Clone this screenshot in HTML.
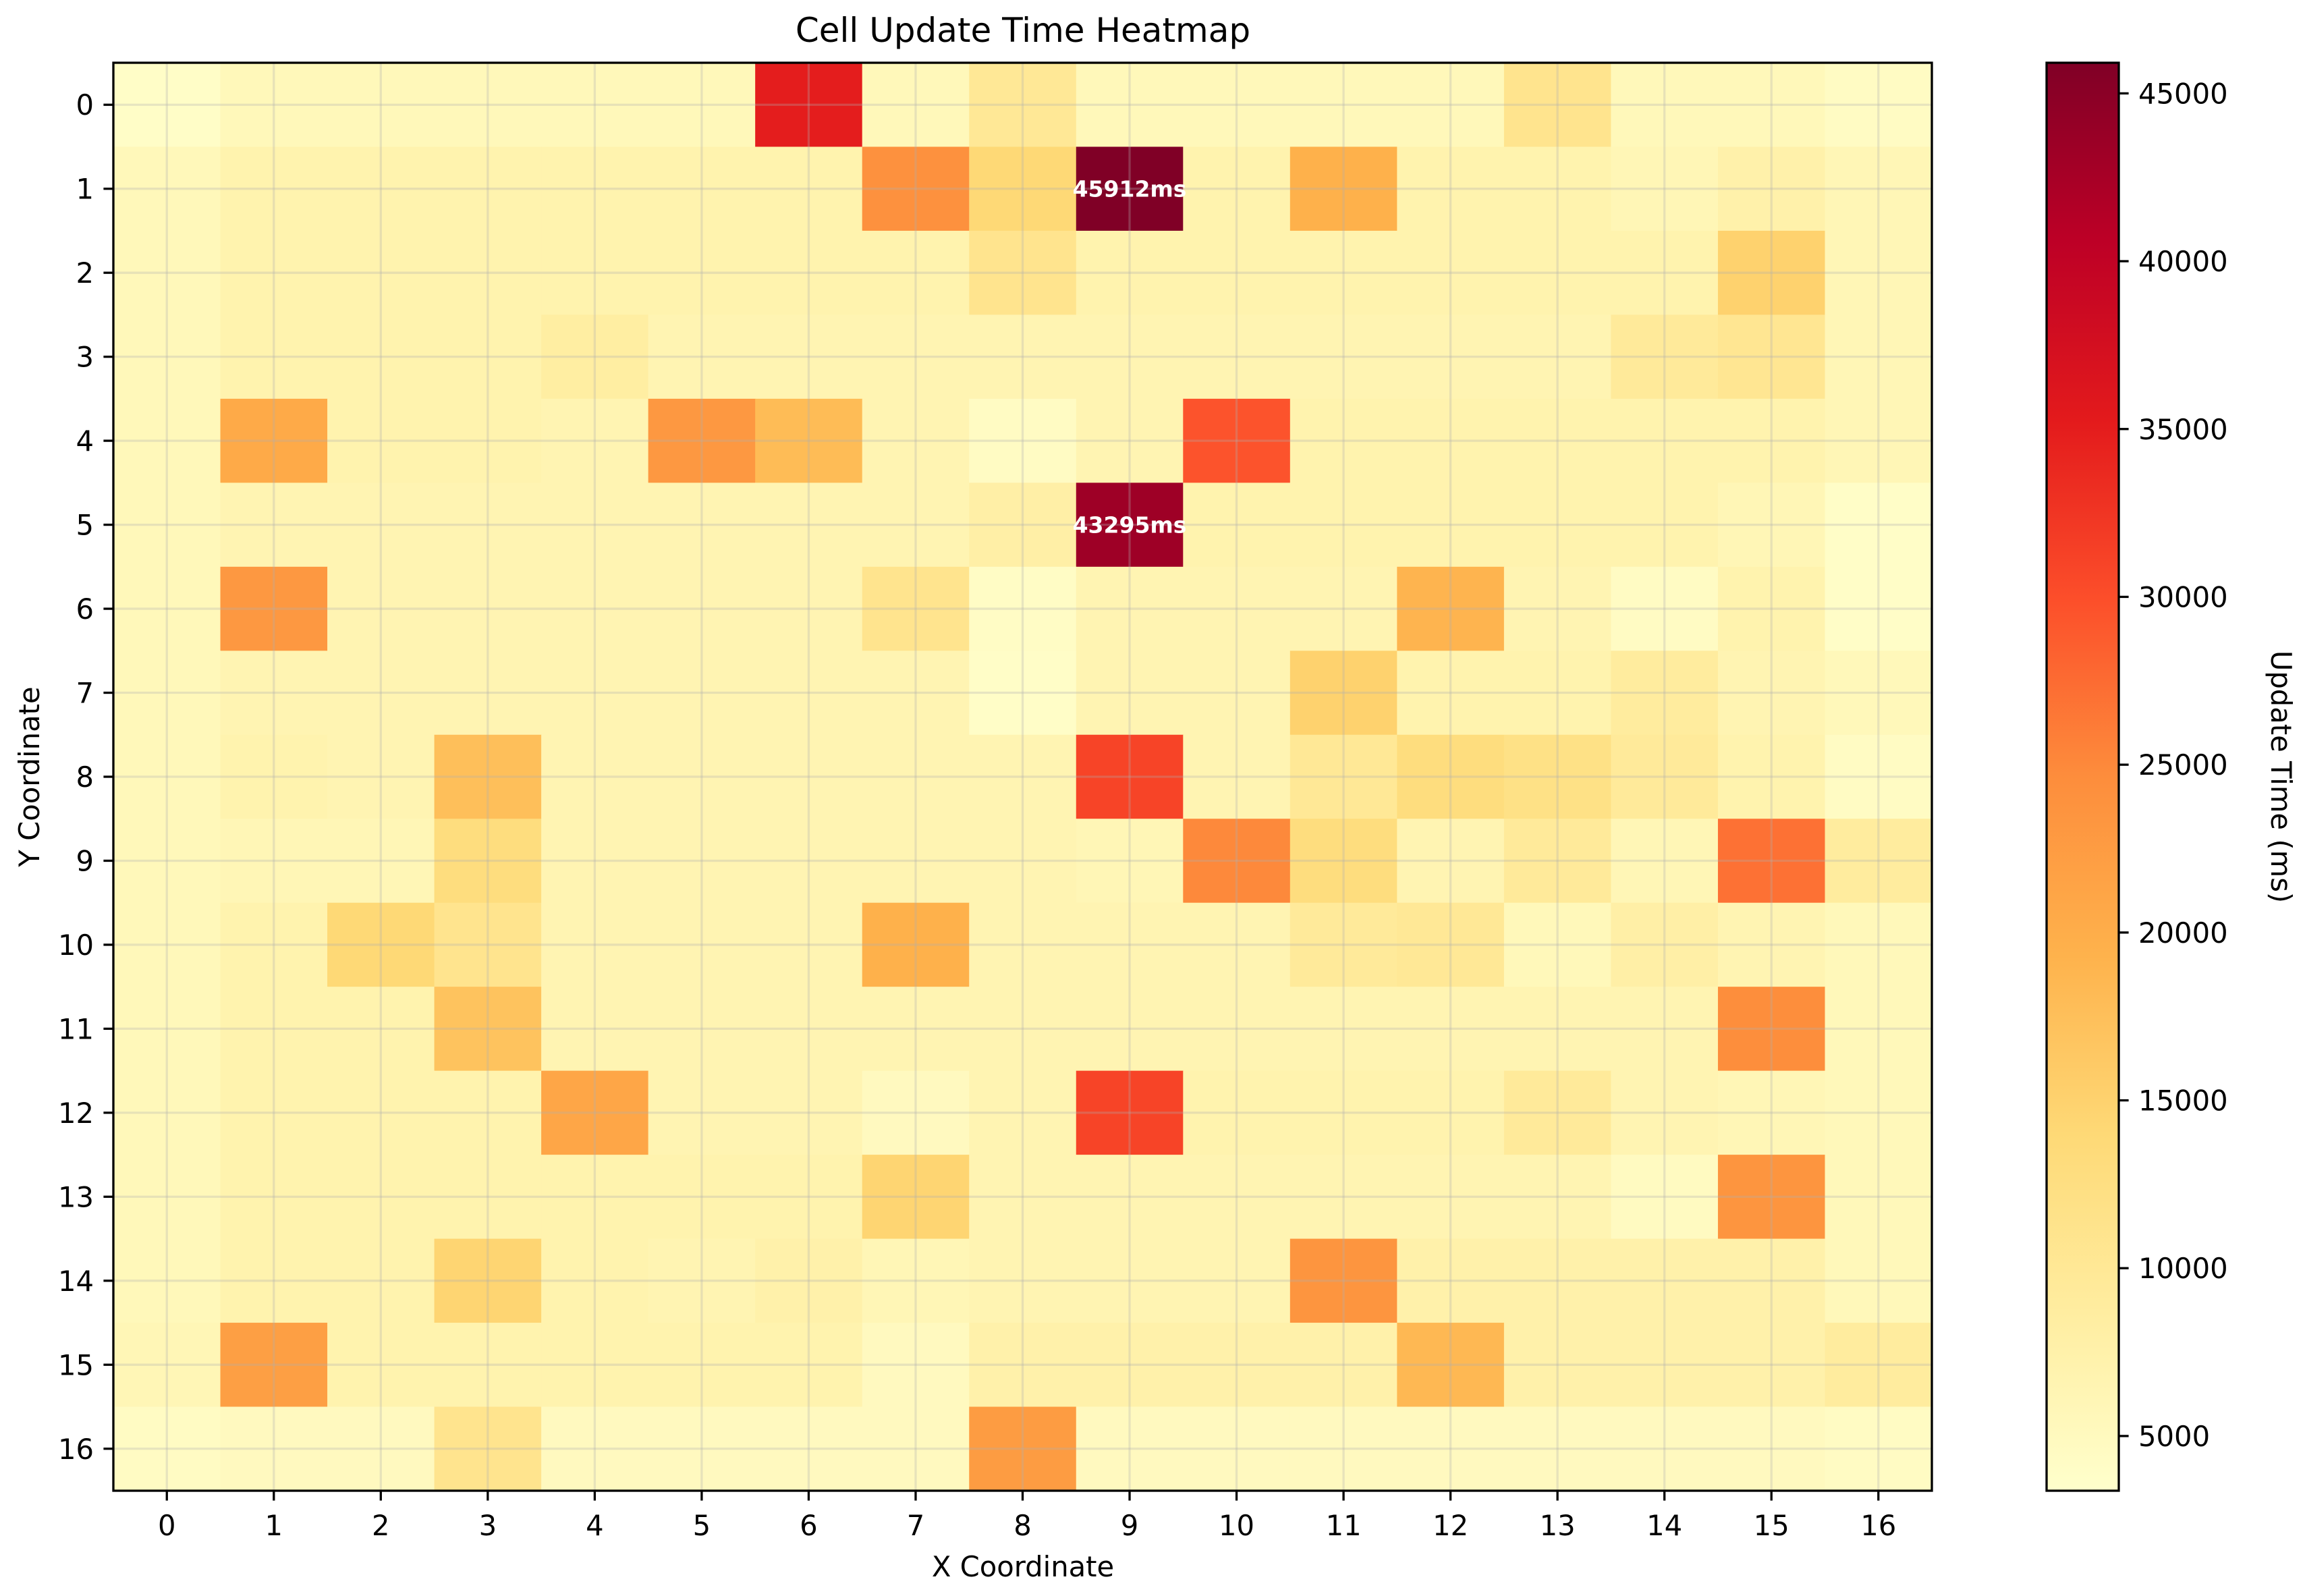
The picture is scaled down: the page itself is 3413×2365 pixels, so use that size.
<!DOCTYPE html>
<html><head><meta charset="utf-8"><style>
html,body{margin:0;padding:0;background:#fff;}
svg{display:block;font-family:"DejaVu Sans","Liberation Sans",sans-serif;}
</style></head><body>
<svg id="chart" width="3413" height="2365" viewBox="0 0 3413 2365" xmlns="http://www.w3.org/2000/svg">
<defs>
<linearGradient id="cbgrad" x1="0" y1="1" x2="0" y2="0">
<stop offset="0" stop-color="#ffffcc"/><stop offset="0.125" stop-color="#ffeda0"/><stop offset="0.25" stop-color="#fed976"/><stop offset="0.375" stop-color="#feb24c"/><stop offset="0.5" stop-color="#fd8d3c"/><stop offset="0.625" stop-color="#fc4e2a"/><stop offset="0.75" stop-color="#e31a1c"/><stop offset="0.875" stop-color="#bd0026"/><stop offset="1" stop-color="#800026"/>
</linearGradient>
</defs>
<text x="1516" y="62" font-size="50" text-anchor="middle">Cell Update Time Heatmap</text>
<g id="cells"></g>
<g id="grid"></g>
<g id="annots"></g>
<rect x="168" y="93" width="2695" height="2116" fill="none" stroke="#000" stroke-width="3.3"/>
<g id="xticks"></g>
<g id="yticks"></g>
<text x="1516" y="2336" font-size="41.7" text-anchor="middle">X Coordinate</text>
<text transform="translate(58,1151) rotate(-90)" font-size="41.7" text-anchor="middle">Y Coordinate</text>
<rect x="3033" y="93" width="107" height="2116" fill="url(#cbgrad)" stroke="#000" stroke-width="3.3"/>
<g id="cbticks"></g>
<text transform="translate(3366,1151) rotate(90)" font-size="41.7" text-anchor="middle">Update Time (ms)</text>
</svg>
<script>
const xCategories = [0,1,2,3,4,5,6,7,8,9,10,11,12,13,14,15,16];
const yCategories = [0,1,2,3,4,5,6,7,8,9,10,11,12,13,14,15,16];
const row0  = [4000,5500,5500,5500,5500,5500,35000,5500,10000,5500,5500,5500,5500,11000,5500,5500,4500];
const row1  = [5500,7000,7000,7000,7000,7000,7000,24000,14000,45912,7000,19500,7000,7000,6000,7500,6000];
const row2  = [5500,7000,7000,7000,7000,7000,7000,7000,11000,7000,7000,7000,7000,7000,7000,15000,6000];
const row3  = [5500,7000,7000,7000,8500,6500,6500,6500,6500,6500,6500,6500,6500,6500,9500,10500,6000];
const row4  = [5500,20500,7000,7000,6500,23000,18000,6500,4500,6500,29500,7000,7000,7000,7000,7000,6000];
const row5  = [5500,6500,6500,6500,6500,6500,6500,6500,8000,43295,7000,7000,7000,7000,7000,6000,4000];
const row6  = [5500,23000,6500,6500,6500,6500,6500,11000,4200,6500,6500,6500,19000,6500,4500,7000,4000];
const row7  = [5500,6500,6500,6500,6500,6500,6500,6500,4000,6500,6500,15000,7000,7000,9000,6500,5500];
const row8  = [5500,7000,6500,17500,6500,6500,6500,6500,6500,31000,6500,10000,13000,12000,9500,7000,4500];
const row9  = [5500,6000,6000,13000,6500,6500,6500,6500,6500,6000,25000,13000,6500,9500,6000,27000,9000];
const row10 = [5500,7000,14000,11000,6500,6500,6500,19500,6500,6500,6500,9500,10000,5500,8000,6500,5500];
const row11 = [5500,7000,7000,17000,6500,6500,6500,6500,6500,6500,6500,6500,6500,6500,6500,24500,5500];
const row12 = [5500,7000,7000,7000,21000,6500,6500,5000,6500,31000,7000,7000,7000,9500,6500,6000,5500];
const row13 = [5500,7000,7000,7000,7000,7000,7000,14500,6500,6500,6500,6500,6500,6500,4700,23500,5500];
const row14 = [5500,7000,7000,14500,7000,6500,7500,6000,6500,6500,6500,23500,7500,7500,7500,7500,5500];
const row15 = [6000,22000,7000,7000,7000,7000,7000,5000,7500,7500,7500,7500,18500,7500,7500,7500,9000];
const row16 = [4500,5000,5000,11000,5000,5000,5000,5000,22500,5000,5000,5000,5000,5000,5000,5000,4500];
const values = [row0,row1,row2,row3,row4,row5,row6,row7,row8,row9,row10,row11,row12,row13,row14,row15,row16];
const cbTicks = [5000,10000,15000,20000,25000,30000,35000,40000,45000];
const vMin = 3370;
const annotThreshold = 40000;

const NS = "http://www.w3.org/2000/svg";
const PX0 = 168, PY0 = 93, PW = 2695, PH = 2116;
const CBX = 3033, CBW = 107;
const cw = PW / xCategories.length, ch = PH / yCategories.length;
function xPos(i){ return PX0 + (i + 0.5) * cw; }
function yPos(j){ return PY0 + (j + 0.5) * ch; }
let vMax = -Infinity;
values.forEach(r => r.forEach(v => { if (v > vMax) vMax = v; }));
function cbY(v){ return PY0 + PH - (v - vMin) / (vMax - vMin) * PH; }
const stops = [[255,255,204],[255,237,160],[254,217,118],[254,178,76],[253,141,60],[252,78,42],[227,26,28],[189,0,38],[128,0,38]];
function cmap(v){
  let t = (v - vMin) / (vMax - vMin); t = Math.max(0, Math.min(1, t));
  const s = t * 8, i = Math.min(7, Math.floor(s)), f = s - i;
  const a = stops[i], b = stops[i+1];
  return "rgb(" + a.map((c,k) => Math.round(c + (b[k]-c)*f)).join(",") + ")";
}
function mk(tag, attrs, parent){
  const e = document.createElementNS(NS, tag);
  for (const k in attrs) e.setAttribute(k, attrs[k]);
  parent.appendChild(e); return e;
}
const cells = document.getElementById("cells");
const annots = document.getElementById("annots");
values.forEach((row, j) => row.forEach((v, i) => {
  const r = mk("rect", {x: xPos(i) - cw/2, y: yPos(j) - ch/2, width: cw + 0.6, height: ch + 0.6, fill: cmap(v)}, cells);
  
  
  if (v >= annotThreshold) {
    const t = mk("text", {x: xPos(i), y: yPos(j) + 12, "font-size": 33, "font-weight": "bold", fill: "#fff", "text-anchor": "middle"}, annots);
    t.textContent = v + "ms";
    
    
  }
}));
const grid = document.getElementById("grid");
xCategories.forEach((c, i) => {
  const l = mk("line", {x1: xPos(i), x2: xPos(i), y1: PY0, y2: PY0 + PH, stroke: "#b0b0b0", "stroke-opacity": 0.3, "stroke-width": 3.3}, grid);
  
  
});
yCategories.forEach((c, j) => {
  const l = mk("line", {x1: PX0, x2: PX0 + PW, y1: yPos(j), y2: yPos(j), stroke: "#b0b0b0", "stroke-opacity": 0.3, "stroke-width": 3.3}, grid);
  
  
});
const xt = document.getElementById("xticks");
xCategories.forEach((c, i) => {
  const l = mk("line", {x1: xPos(i), x2: xPos(i), y1: PY0 + PH, y2: PY0 + PH + 14.6, stroke: "#000", "stroke-width": 3.3}, xt);
  
  
  const t = mk("text", {x: xPos(i), y: PY0 + PH + 66, "font-size": 41.7, "text-anchor": "middle"}, xt);
  t.textContent = c;
  
  
});
const yt = document.getElementById("yticks");
yCategories.forEach((c, j) => {
  const l = mk("line", {x1: PX0 - 14.6, x2: PX0, y1: yPos(j), y2: yPos(j), stroke: "#000", "stroke-width": 3.3}, yt);
  
  
  const t = mk("text", {x: PX0 - 29, y: yPos(j) + 15, "font-size": 41.7, "text-anchor": "end"}, yt);
  t.textContent = c;
  
  
});
const cbt = document.getElementById("cbticks");
cbTicks.forEach(v => {
  const y = cbY(v);
  const l = mk("line", {x1: CBX + CBW, x2: CBX + CBW + 14.6, y1: y, y2: y, stroke: "#000", "stroke-width": 3.3}, cbt);
  
  
  const t = mk("text", {x: CBX + CBW + 29, y: y + 15, "font-size": 41.7}, cbt);
  t.textContent = v;
  
  
});
</script>
</body></html>
